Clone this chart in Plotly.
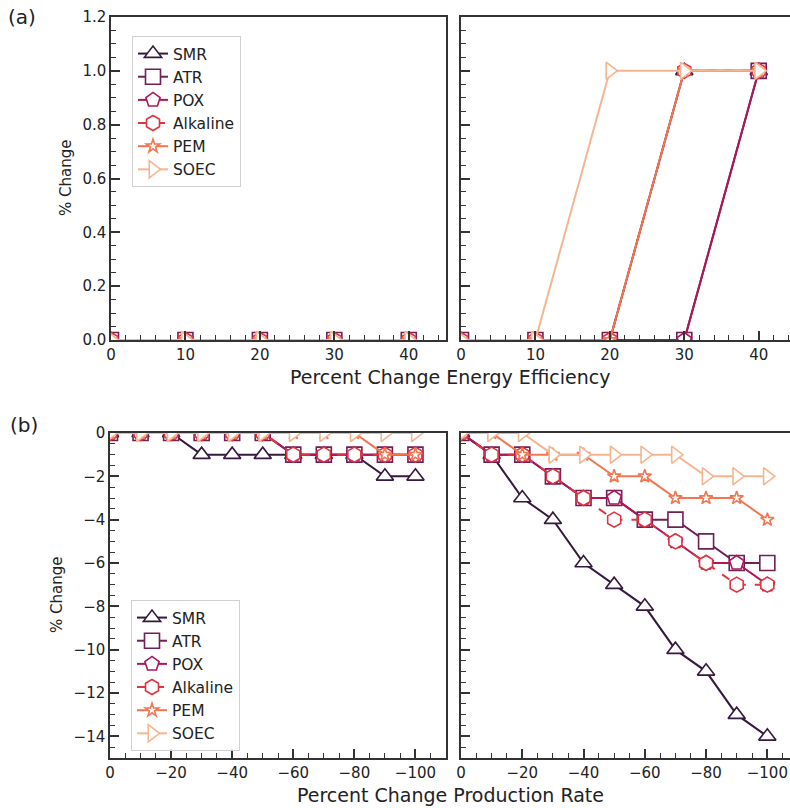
import plotly.graph_objects as go

# ---------------- data ----------------
series_names = ["SMR", "ATR", "POX", "Alkaline", "PEM", "SOEC"]
colors = ["#35193e", "#701f57", "#ad1759", "#e13342", "#f37651", "#f6b48f"]
symbols = ["triangle-up", "square", "pentagon", "hexagon", "star", "triangle-right"]
dashes = ["solid", "solid", "solid", "dash", "solid", "solid"]

eff_x = [0, 10, 20, 30, 40]
eff_left = {
    "SMR": [0, 0, 0, 0, 0],
    "ATR": [0, 0, 0, 0, 0],
    "POX": [0, 0, 0, 0, 0],
    "Alkaline": [0, 0, 0, 0, 0],
    "PEM": [0, 0, 0, 0, 0],
    "SOEC": [0, 0, 0, 0, 0],
}
eff_right = {
    "SMR": [0, 0, 0, 1, 1],
    "ATR": [0, 0, 0, 0, 1],
    "POX": [0, 0, 0, 0, 1],
    "Alkaline": [0, 0, 0, 1, 1],
    "PEM": [0, 0, 0, 1, 1],
    "SOEC": [0, 0, 1, 1, 1],
}

prod_x = [0, -10, -20, -30, -40, -50, -60, -70, -80, -90, -100]
prod_left = {
    "SMR": [0, 0, 0, -1, -1, -1, -1, -1, -1, -2, -2],
    "ATR": [0, 0, 0, 0, 0, 0, -1, -1, -1, -1, -1],
    "POX": [0, 0, 0, 0, 0, 0, -1, -1, -1, -1, -1],
    "Alkaline": [0, 0, 0, 0, 0, 0, -1, -1, -1, -1, -1],
    "PEM": [0, 0, 0, 0, 0, 0, 0, 0, 0, -1, -1],
    "SOEC": [0, 0, 0, 0, 0, 0, 0, 0, 0, 0, 0],
}
prod_right = {
    "SMR": [0, -1, -3, -4, -6, -7, -8, -10, -11, -13, -14],
    "ATR": [0, -1, -1, -2, -3, -3, -4, -4, -5, -6, -6],
    "POX": [0, -1, -1, -2, -3, -3, -4, -5, -6, -6, -7],
    "Alkaline": [0, -1, -1, -2, -3, -4, -4, -5, -6, -7, -7],
    "PEM": [0, 0, -1, -1, -1, -2, -2, -3, -3, -3, -4],
    "SOEC": [0, 0, 0, -1, -1, -1, -1, -1, -2, -2, -2],
}

eff_ticks = [0, 10, 20, 30, 40]
eff_yticks = [0.0, 0.2, 0.4, 0.6, 0.8, 1.0, 1.2]
prod_ticks = [0, -20, -40, -60, -80, -100]
prod_yticks = [0, -2, -4, -6, -8, -10, -12, -14]

# ---------------- figure ----------------
W, H = 790, 808
FONT = "DejaVu Sans"
AX = "#333333"

fig = go.Figure()


def add_panel(xvals, data, xa, ya, legend=None):
    for name, c, s, d in zip(series_names, colors, symbols, dashes):
        fig.add_trace(go.Scatter(
            x=xvals, y=data[name], name=name, mode="lines+markers",
            xaxis=xa, yaxis=ya,
            line=dict(color=c, width=2, dash=d),
            marker=dict(symbol=s, size=15 if s != "star" else 10, color="white",
                        line=dict(color=c, width=1.6)),
            showlegend=legend is not None,
            legend=legend if legend else "legend",
        ))


add_panel(eff_x, eff_left, "x", "y", "legend")
add_panel(eff_x, eff_right, "x2", "y2")
add_panel(prod_x, prod_left, "x3", "y3", "legend2")
add_panel(prod_x, prod_right, "x4", "y4")


def px_x(a, b):
    return [a / W, min(b / W, 1.0)]


def px_y(top, bottom):
    return [1 - bottom / H, 1 - top / H]


def minus(v):
    return ("\u2212" + str(-v)) if v < 0 else str(v)


tickfont = dict(family=FONT, size=15, color="#222")
common = dict(showgrid=False, zeroline=False, showline=True, linecolor=AX, linewidth=1.5,
              ticks="inside", ticklen=9, tickwidth=1.5, tickcolor=AX, tickfont=tickfont,
              automargin=False)


def mnr(dt):
    return dict(ticks="inside", ticklen=5, dtick=dt, tick0=0, tickcolor=AX, tickwidth=1.2, showgrid=False)


top_dom = px_y(17, 340)
bot_dom = px_y(433, 758)

fig.update_layout(
    width=W, height=H,
    margin=dict(l=0, r=0, t=0, b=0, autoexpand=False),
    paper_bgcolor="white", plot_bgcolor="white",
    font=dict(family=FONT, size=14, color="#222"),
    xaxis=dict(domain=px_x(111, 446), range=[0, 45], tickvals=eff_ticks, anchor="y",
               mirror=True, minor=mnr(2), **common),
    yaxis=dict(domain=top_dom, range=[0, 1.2], tickvals=eff_yticks, tickformat=".1f", anchor="x",
               mirror=True, minor=mnr(0.05), **common),
    xaxis2=dict(domain=px_x(461, 790), range=[0, 44.2], tickvals=eff_ticks, anchor="y2",
                mirror=True, minor=mnr(2), **common),
    yaxis2=dict(domain=top_dom, range=[0, 1.2], tickvals=eff_yticks, showticklabels=False, anchor="x2",
                mirror=False, minor=mnr(0.05), **common),
    xaxis3=dict(domain=px_x(110, 446), range=[0, -110], tickvals=prod_ticks,
                ticktext=[minus(v) for v in prod_ticks], anchor="y3",
                mirror=True, minor=mnr(5), **common),
    yaxis3=dict(domain=bot_dom, range=[-15, 0], tickvals=prod_yticks,
                ticktext=[minus(v) for v in prod_yticks], anchor="x3",
                mirror=True, minor=mnr(0.5), **common),
    xaxis4=dict(domain=px_x(461, 790), range=[0, -107.4], tickvals=prod_ticks,
                ticktext=[minus(v) for v in prod_ticks], anchor="y4",
                mirror=True, minor=mnr(5), **common),
    yaxis4=dict(domain=bot_dom, range=[-15, 0], tickvals=prod_yticks, showticklabels=False, anchor="x4",
                mirror=False, minor=mnr(0.5), **common),
    legend=dict(x=132 / W, y=1 - 36 / H, xanchor="left", yanchor="top",
                bgcolor="rgba(255,255,255,0.85)", bordercolor="#d0d0d0", borderwidth=1,
                font=dict(family=FONT, size=15.5, color="#222"), tracegroupgap=0),
    legend2=dict(x=131 / W, y=1 - 600 / H, xanchor="left", yanchor="top",
                 bgcolor="rgba(255,255,255,0.85)", bordercolor="#d0d0d0", borderwidth=1,
                 font=dict(family=FONT, size=15.5, color="#222"), tracegroupgap=0),
)

ann = [
    dict(text="(a)", x=22 / W, y=1 - 17 / H, font=dict(size=20)),
    dict(text="(b)", x=24 / W, y=1 - 425 / H, font=dict(size=20)),
    dict(text="Percent Change Energy Efficiency", x=450 / W, y=1 - 377 / H, font=dict(size=19)),
    dict(text="Percent Change Production Rate", x=450 / W, y=1 - 795 / H, font=dict(size=19)),
    dict(text="% Change", x=66 / W, y=1 - 178 / H, font=dict(size=15), textangle=-90),
    dict(text="% Change", x=57 / W, y=1 - 595 / H, font=dict(size=15), textangle=-90),
]
for a in ann:
    a.update(xref="paper", yref="paper", showarrow=False, xanchor="center", yanchor="middle")
    a["font"].update(family=FONT, color="#222")
    fig.add_annotation(**a)

fig.write_html("out.html", config={"displayModeBar": False},
               post_script="document.body.style.margin='0';document.body.style.overflow='hidden';")
